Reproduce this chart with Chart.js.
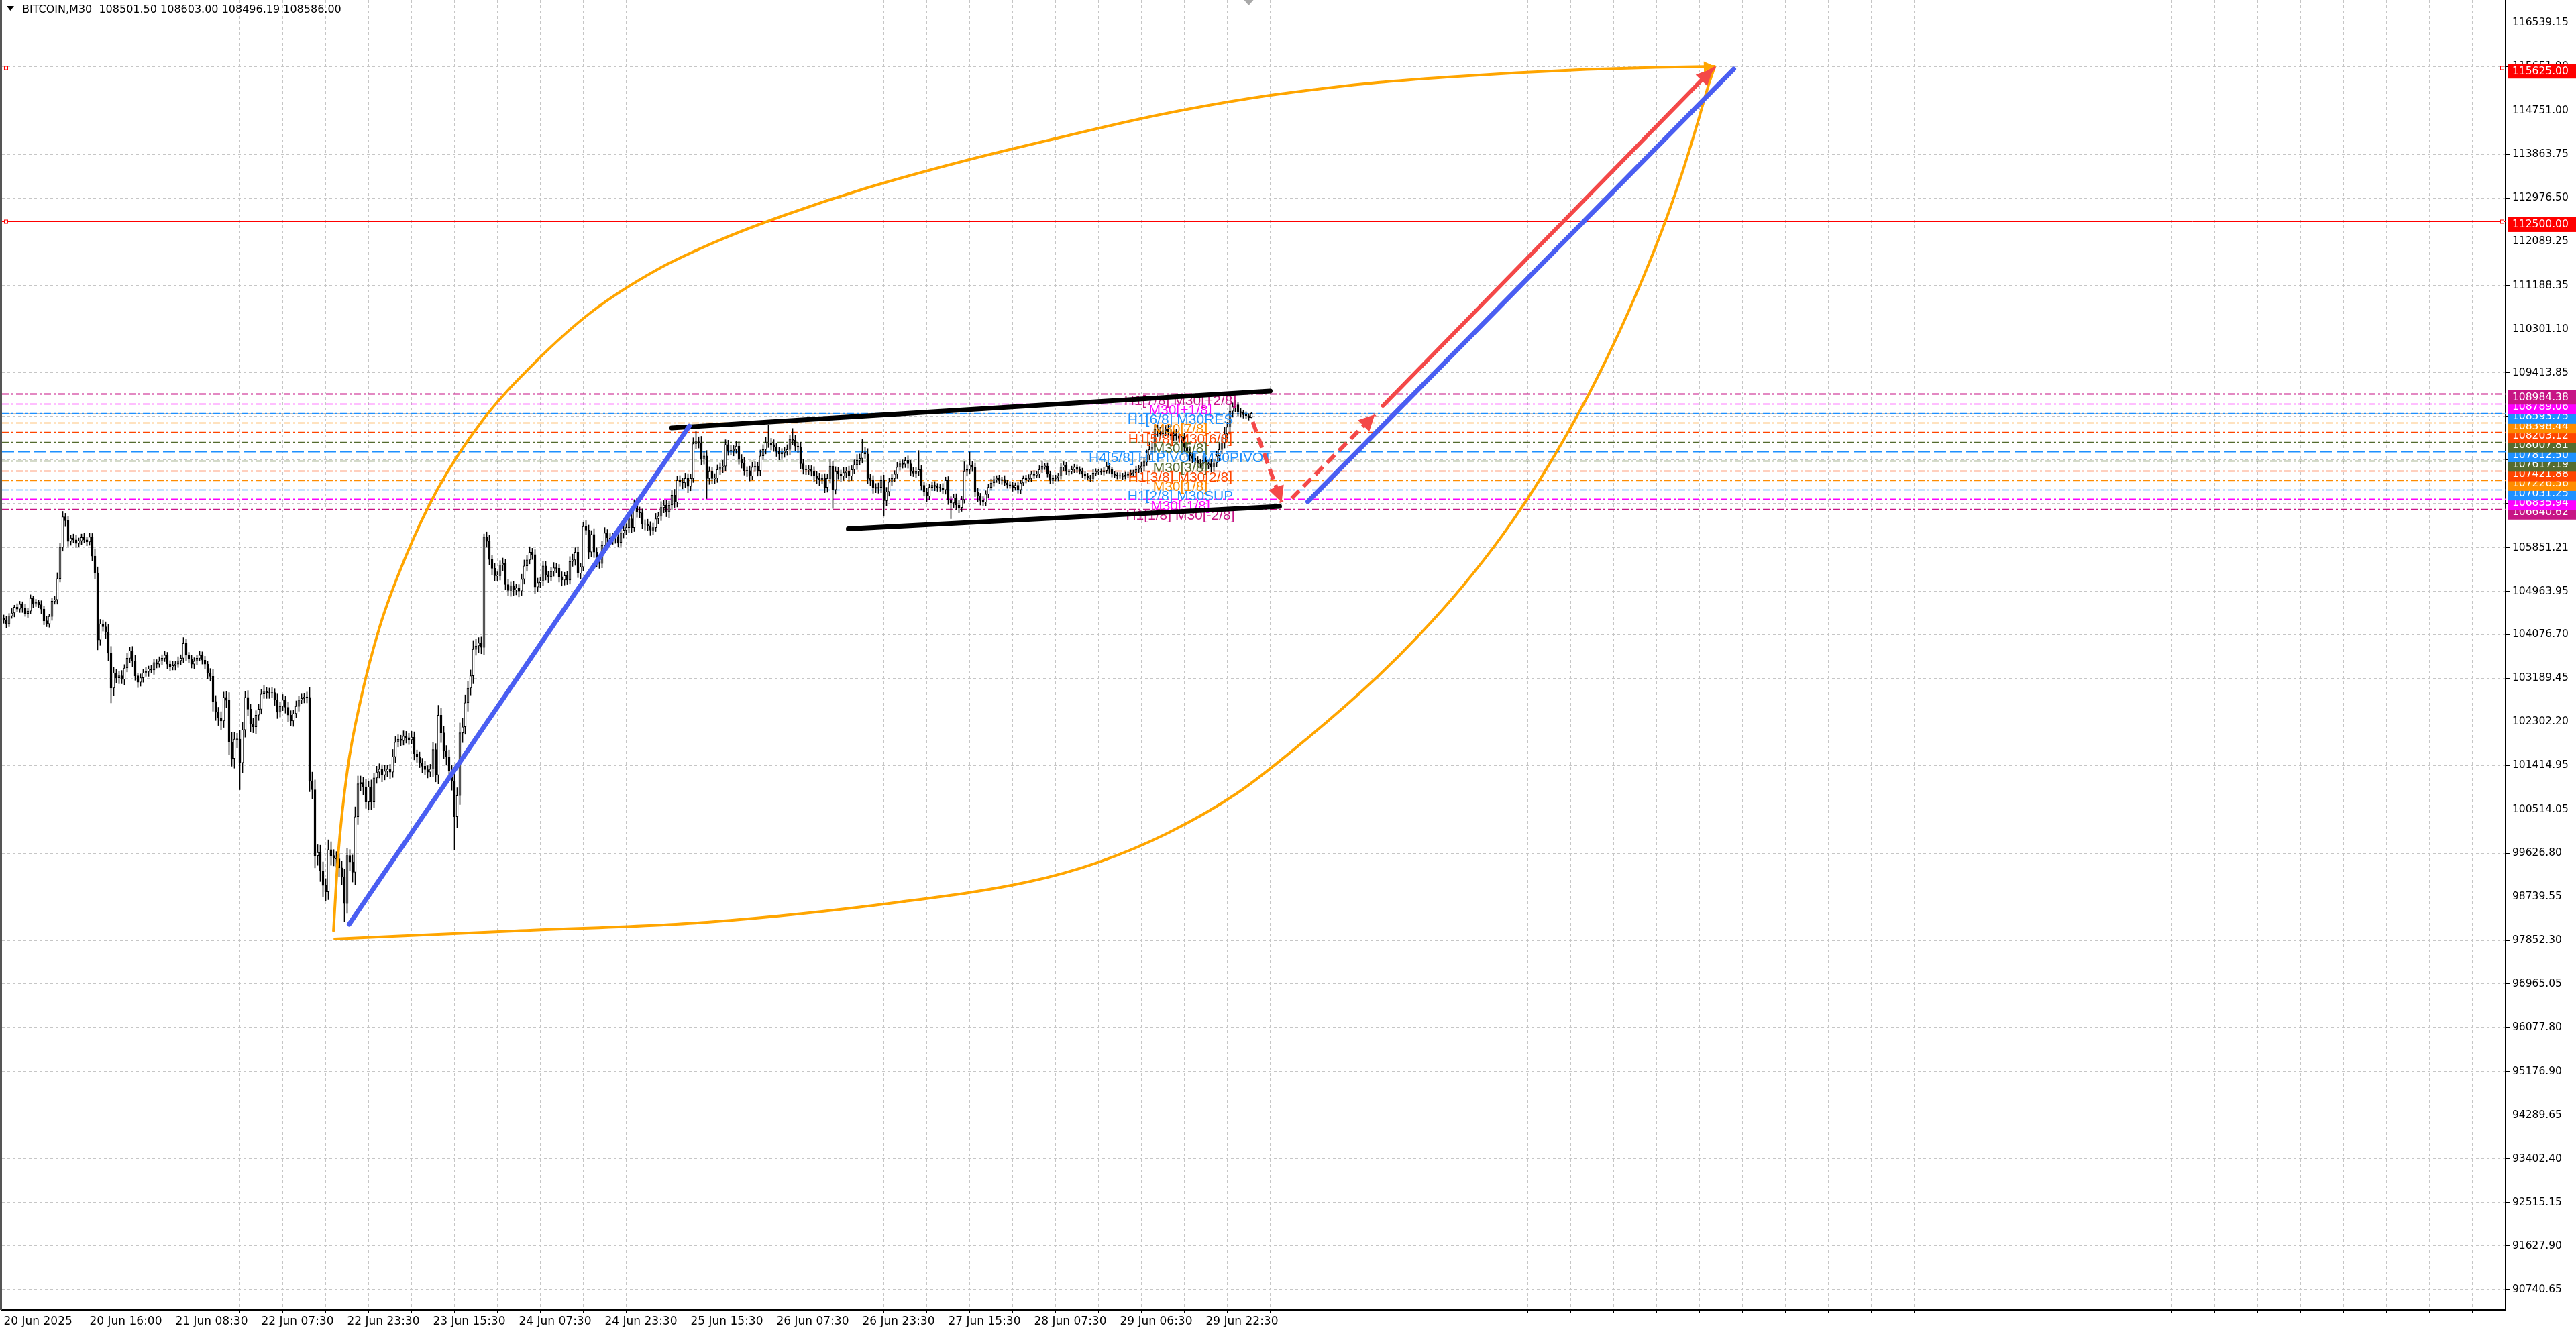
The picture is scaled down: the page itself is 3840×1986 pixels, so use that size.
<!DOCTYPE html>
<html>
<head>
<meta charset="utf-8">
<title>BITCOIN,M30</title>
<script src="https://cdn.jsdelivr.net/npm/chart.js@4/dist/chart.umd.min.js"></script>
<style>
  html, body { margin: 0; padding: 0; background: #fff; overflow: hidden; }
  canvas { display: block; }
</style>
</head>
<body>
<canvas id="chart" width="3840" height="1986" style="width:3840px;height:1986px"></canvas>
<script>
// ---- header / axis texts ----
const symbolName = 'BITCOIN,M30';
const lastOHLC = [108501.50, 108603.00, 108496.19, 108586.00];
const xLabels = ['20 Jun 2025', '20 Jun 16:00', '21 Jun 08:30', '22 Jun 07:30', '22 Jun 23:30',
  '23 Jun 15:30', '24 Jun 07:30', '24 Jun 23:30', '25 Jun 15:30', '26 Jun 07:30',
  '26 Jun 23:30', '27 Jun 15:30', '28 Jun 07:30', '29 Jun 06:30', '29 Jun 22:30'];
const yTicks = [116539.15, 115651.90, 114751.00, 113863.75, 112976.50, 112089.25, 111188.35,
  110301.10, 109413.85, 108526.60, 107639.35, 106752.10, 105851.21, 104963.95, 104076.70,
  103189.45, 102302.20, 101414.95, 100514.05, 99626.80, 98739.55, 97852.30, 96965.05,
  96077.80, 95176.90, 94289.65, 93402.40, 92515.15, 91627.90, 90740.65];

// ---- M30 candles (one per bar, opens follow the previous close) ----
const firstOpen = 104420;
const closes = [
  104380,104300,104460,104520,104640,104600,104700,104620,104510,104560,
  104820,104700,104740,104690,104600,104360,104300,104450,104760,104790,
  105220,105860,106480,106400,105980,106050,106010,105940,105990,106060,
  106010,105970,106070,105680,105340,103970,104300,104240,104130,103700,
  102990,103300,103200,103240,103170,103400,103600,103750,103540,103240,
  103110,103200,103300,103330,103380,103360,103510,103480,103540,103600,
  103660,103480,103420,103450,103480,103550,103600,103900,103660,103580,
  103480,103540,103600,103660,103560,103480,103300,103230,102720,102500,
  102380,102320,102800,102740,101890,101560,101950,101950,101470,102140,
  102800,102560,102260,102200,102440,102560,102870,102930,102900,102880,
  102900,102750,102500,102620,102750,102600,102440,102320,102470,102620,
  102750,102780,102810,102800,101100,100920,99580,99640,99270,98970,
  98840,99700,99580,99520,99510,99330,99150,98600,99580,99450,
  99240,100370,101040,101070,100980,100670,100980,100670,101160,101280,
  101340,101220,101300,101340,101280,101590,101890,101950,101920,102010,
  101980,101940,101990,101650,101590,101470,101400,101330,101280,101340,
  101740,101220,102440,102080,101710,101590,101300,101100,100370,100800,
  102080,102200,102690,102990,103240,103780,103850,103910,103820,106070,
  105980,105610,105430,105280,105280,105500,105530,105100,104980,105080,
  104990,105030,104970,105210,105480,105600,105760,105710,105050,105140,
  105170,105480,105300,105260,105370,105440,105430,105260,105190,105280,
  105190,105570,105600,105760,105330,105460,106280,106210,105760,106120,
  105760,105580,105530,105900,106150,106050,106010,106060,106080,105960,
  106150,106210,106260,106440,106260,106740,106580,106560,106330,106330,
  106300,106210,106260,106440,106490,106670,106720,106580,106720,106920,
  106780,107220,107190,107170,107260,107100,107260,107970,108010,107990,
  107650,107720,107260,107400,107260,107270,107440,107490,107510,107950,
  107830,107830,107850,107920,107650,107580,107420,107420,107310,107490,
  107510,107420,107720,107850,107990,107990,107950,107900,107810,107760,
  107790,107810,107850,108060,108040,107920,107900,107560,107440,107440,
  107440,107400,107310,107260,107240,107260,107080,107260,107510,107030,
  107400,107350,107310,107380,107400,107310,107440,107540,107630,107670,
  107790,107760,107260,107220,107080,107060,107080,107220,106810,106990,
  107190,107260,107350,107490,107560,107550,107630,107560,107400,107370,
  107400,107440,107120,106990,106900,107080,107120,107100,107080,107070,
  107030,107220,106830,106760,106870,106720,106670,106830,107400,107440,
  107530,107490,106990,106900,106810,106780,106940,107080,107170,107240,
  107260,107220,107240,107170,107130,107120,107080,107120,107030,107170,
  107260,107240,107260,107350,107330,107350,107440,107510,107510,107350,
  107220,107260,107280,107310,107490,107530,107400,107400,107440,107490,
  107440,107400,107350,107310,107280,107260,107370,107400,107400,107390,
  107420,107510,107440,107350,107330,107310,107320,107300,107330,107340,
  107370,107380,107440,107470,107510,107600,107740,107850,107900,108260,
  108220,108170,108240,108260,108190,108130,108170,108130,108080,108100,
  107900,107810,107720,107670,107630,107580,107560,107630,107540,107560,
  107490,107580,107720,107850,107990,108170,108310,108630,108720,108760,
  108620,108600,108560,108540,108500,108586
];
// upper / lower shadow length of each candle
const wickUp = [
  60,80,50,90,40,70,60,50,80,60, 70,50,60,40,80,60,90,50,60,70,
  120,80,110,70,90,60,80,100,60,70, 90,60,80,70,150,120,90,80,100,160,
  140,120,80,90,110,70,100,80,90,120, 60,80,70,90,60,80,70,60,90,70,
  80,60,70,90,60,80,70,120,90,60, 80,70,60,90,70,80,60,90,150,120,
  100,130,110,120,160,200,140,120,180,150, 120,140,100,120,90,110,100,120,80,90,
  100,80,120,90,110,80,100,90,70,110, 80,90,70,100,200,180,200,160,150,180,
  140,200,160,120,140,110,130,160,150,120, 140,200,160,130,110,150,120,140,100,120,
  110,90,120,80,100,150,120,90,80,110, 100,90,120,110,80,100,90,110,80,100,
  140,120,200,150,130,110,140,120,180,160, 200,180,160,140,120,180,140,110,120,60,
  100,120,90,100,80,90,110,80,100,70, 90,80,70,100,120,90,110,80,100,90,
  80,100,90,70,80,110,90,80,100,70, 90,100,120,90,110,80,90,120,100,80,
  120,90,100,80,110,70,90,80,100,120, 90,110,80,100,130,90,120,100,80,90,
  100,80,90,110,80,120,90,100,80,110, 120,90,100,80,110,100,90,120,210,100,
  130,90,110,100,80,90,100,90,120,100, 90,110,80,100,90,100,110,80,90,100,
  90,80,120,100,110,360,90,100,80,90, 80,90,100,90,220,100,80,100,90,80,
  90,80,100,90,110,80,100,90,130,100, 100,90,80,100,90,110,80,100,120,90,
  270,100,110,90,100,80,90,100,110,90, 80,90,70,100,60,80,60,90,70,80,
  80,390,90,70,80,60,70,80,60,70, 90,70,80,60,70,80,90,70,200,100,
  270,80,90,70,60,80,70,60,80,70, 60,70,50,80,60,70,60,50,70,60,
  60,70,80,60,70,50,80,110,60,70, 60,70,50,60,80,70,60,50,70,60,
  50,60,70,50,60,50,70,60,50,60, 70,80,60,50,60,50,60,50,60,50,
  60,50,70,60,80,90,100,120,90,80, 100,90,110,80,90,70,80,90,70,80,
  90,80,100,70,90,80,70,90,80,70, 90,80,100,120,110,130,100,140,80,90,
  60,70,50,60,40,17
];
const wickDn = [
  70,90,60,50,80,60,70,90,60,80, 60,80,50,70,90,80,60,70,80,60,
  90,70,80,120,100,80,60,90,70,80, 60,80,70,100,120,200,110,90,130,150,
  300,160,100,120,90,110,80,100,120,90, 110,80,90,70,100,60,90,80,70,80,
  70,90,80,60,90,70,80,100,110,70, 80,90,70,60,80,90,120,100,200,170,
  150,180,130,150,250,160,200,180,550,200, 150,130,160,120,140,110,100,90,120,100,
  90,110,130,100,90,120,140,100,110,90, 100,80,90,110,220,180,250,200,220,240,
  180,160,200,150,170,190,160,370,200,180, 200,250,160,140,170,130,150,160,120,110,
  120,140,100,110,130,110,120,100,110,90, 110,100,90,120,110,100,130,110,120,90,
  160,140,180,200,150,170,160,190,670,220, 180,200,150,170,140,160,120,140,130,150,
  120,110,130,100,110,90,120,110,100,120, 110,100,120,90,100,110,80,100,130,90,
  100,90,110,120,80,100,90,110,120,100, 90,80,100,110,90,120,80,100,130,90,
  110,120,100,90,80,110,100,90,120,100, 80,100,90,110,100,80,110,100,90,120,
  100,110,90,80,100,90,110,100,120,90, 110,100,90,120,100,130,90,80,100,110,
  120,100,410,120,100,110,90,100,110,90, 100,90,110,80,100,110,90,120,100,80,
  90,110,100,80,90,100,110,90,100,120, 90,100,80,110,90,100,120,110,90,100,
  100,90,110,100,120,90,110,100,90,380, 90,100,110,90,100,110,90,80,100,90,
  100,90,110,100,120,90,100,110,320,100, 90,80,70,90,60,80,70,90,80,70,
  90,80,100,90,110,80,70,90,80,70, 80,90,100,320,90,100,110,80,70,90,
  80,90,100,110,90,80,70,80,60,70, 60,70,80,60,70,60,80,60,70,80,
  60,70,50,60,70,60,80,60,70,60, 70,60,50,70,60,80,60,70,50,60,
  60,50,70,60,50,60,70,50,60,50, 60,50,70,60,50,60,50,60,50,60,
  50,60,70,60,80,90,80,100,110,90, 100,90,80,110,90,80,100,90,80,90,
  90,100,110,90,100,80,90,100,80,90, 100,90,80,100,90,110,90,100,120,110,
  80,90,70,60,50,4
];

// ---- horizontal levels ----
const redLevels = [115625.00, 112500.00];
const bidPrice = 108586.00;
const levels = [108984.38, 108789.06, 108593.75, 108398.44, 108203.12, 108007.81, 107812.50,
  107617.19, 107421.88, 107226.56, 107031.25, 106835.94, 106640.62];
const levelColors = ['#C71585', '#FF00FF', '#1E90FF', '#FF8C00', '#FF4500', '#556B2F', '#1E90FF',
  '#556B2F', '#FF4500', '#FF8C00', '#1E90FF', '#FF00FF', '#C71585'];
const levelWidths = [2, 1.5, 1.5, 1.5, 1.5, 1.5, 2, 1.5, 1.5, 1.5, 1.5, 2, 1.5];
const levelTexts = ['H1[7/8] M30[+2/8]', 'M30[+1/8]', 'H1[6/8] M30RES', 'M30[7/8]', 'H1[5/8] M30[6/8]',
  'M30[5/8]', 'H4[5/8] H1PIVOT M30PIVOT', 'M30[3/8]', 'H1[3/8] M30[2/8]', 'M30[1/8]',
  'H1[2/8] M30SUP', 'M30[-1/8]', 'H1[1/8] M30[-2/8]'];
const levelTextBar = 438.5;
const shiftBar = 464;

// ---- drawn objects: [bar index, price] ----
const blueTrendA = [[128.75, 98180], [255.5, 108328]];
const blueTrendB = [[486, 106788], [644.75, 115600]];
const channelTop = [[248.9, 108291], [472, 109042]];
const channelBottom = [[314.75, 106234], [475.5, 106692]];
const redDashDown = [[465.5, 108414], [476.25, 106774]];
const redDashUp = [[480, 106856], [511, 108564]];
const redArrow = [[514, 108742], [637.25, 115625]];
const arcUpper = [[122.9, 98044], [124.6, 99560], [128.1, 101323], [132.9, 102717],
  [140.1, 104233], [149.6, 105640], [161.6, 107034], [178.4, 108441], [197.6, 109603],
  [219.1, 110655], [243.1, 111502], [266.9, 112117], [290.9, 112622], [321.9, 113182],
  [357.9, 113729], [393.6, 114207], [429.6, 114658], [465.4, 115013], [493.6, 115218],
  [512.1, 115327], [537.9, 115437], [563.9, 115526], [589.9, 115594], [615.6, 115635],
  [637.6, 115655]];
const arcLower = [[123.4, 97880], [190.4, 98044], [262.1, 98221], [333.9, 98631],
  [381.6, 99041], [407.6, 99437], [433.9, 100039], [459.9, 100858], [486.1, 101979],
  [512.1, 103229], [527.6, 104076], [543.1, 105026], [558.6, 106110], [574.1, 107381],
  [589.9, 108892], [600.1, 110013], [610.6, 111304], [619.9, 112595], [626.1, 113585],
  [631.1, 114474], [635.4, 115286], [637.6, 115642]];

const FONT = '"DejaVu Sans", Verdana, sans-serif';
const RED = '#F44848';
const BLUE = '#4A5EF2';
const ORANGE = '#FFA500';

// candle pieces
const opens = closes.map((c, i) => (i === 0 ? firstOpen : closes[i - 1]));
const wickData = closes.map((c, i) => ({
  x: i, y: [Math.min(opens[i], c) - wickDn[i], Math.max(opens[i], c) + wickUp[i]]
}));
const bodyData = closes.map((c, i) => {
  let lo = Math.min(opens[i], c), hi = Math.max(opens[i], c);
  if (hi - lo < 14) { const m = (hi + lo) / 2; lo = m - 7; hi = m + 7; }
  return { x: i, y: [lo, hi] };
});
const bodyColors = closes.map((c, i) => (c >= opens[i] ? '#ffffff' : '#000000'));

const xGrid = [];
for (let v = 0; v <= 928; v += 16) xGrid.push(v);

function lineDs(label, pts, color, width, order, extra) {
  return Object.assign({
    type: 'line', label, data: pts.map(([x, y]) => ({ x, y })),
    borderColor: color, borderWidth: width, pointRadius: 0, fill: false,
    tension: 0, borderCapStyle: 'round', order
  }, extra || {});
}

function hline(ctx, a, yy, color, w, dash) {
  ctx.strokeStyle = color;
  ctx.lineWidth = w;
  ctx.setLineDash(dash);
  ctx.beginPath();
  ctx.moveTo(a.left, yy);
  ctx.lineTo(a.right, yy);
  ctx.stroke();
}

function arrowHead(ctx, x, y, from, to, len, half, color) {
  const fx = x.getPixelForValue(from[0]), fy = y.getPixelForValue(from[1]);
  const tx = x.getPixelForValue(to[0]), ty = y.getPixelForValue(to[1]);
  const d = Math.hypot(tx - fx, ty - fy) || 1;
  const ux = (tx - fx) / d, uy = (ty - fy) / d;
  const bx = tx - ux * len, by = ty - uy * len;
  ctx.fillStyle = color;
  ctx.beginPath();
  ctx.moveTo(tx, ty);
  ctx.lineTo(bx - uy * half, by + ux * half);
  ctx.lineTo(bx + uy * half, by - ux * half);
  ctx.closePath();
  ctx.fill();
}

const overlay = {
  id: 'overlay',
  beforeDatasetsDraw(chart) {
    const { ctx, chartArea: a, scales: { y } } = chart;
    ctx.save();
    ctx.beginPath();
    ctx.rect(a.left, a.top, a.right - a.left, a.bottom - a.top);
    ctx.clip();
    hline(ctx, a, Math.round(y.getPixelForValue(bidPrice)) + 0.5, '#c0c0c0', 1, []);
    levels.forEach((p, k) => {
      const yy = Math.round(y.getPixelForValue(p)) + 0.5;
      hline(ctx, a, yy, levelColors[k], levelWidths[k], k === 6 ? [18, 6] : [10, 4, 3, 4]);
    });
    redLevels.forEach(p => hline(ctx, a, Math.round(y.getPixelForValue(p)) + 0.5, '#ff0000', 1, []));
    ctx.restore();
  },
  afterDatasetDraw(chart, args) {
    // level captions sit above the candles but under the drawn lines
    if (chart.data.datasets[args.index].label !== 'bodies') return;
    const { ctx, scales: { x, y } } = chart;
    ctx.save();
    ctx.font = '21px "Liberation Sans", Arial, sans-serif';
    ctx.textAlign = 'center';
    ctx.textBaseline = 'top';
    const cx = x.getPixelForValue(levelTextBar);
    levels.forEach((p, k) => {
      ctx.fillStyle = levelColors[k];
      ctx.fillText(levelTexts[k], cx, y.getPixelForValue(p));
    });
    ctx.restore();
  },
  afterDatasetsDraw(chart) {
    const { ctx, scales: { x, y } } = chart;
    ctx.save();
    arrowHead(ctx, x, y, redDashDown[0], redDashDown[1], 24, 12, RED);
    arrowHead(ctx, x, y, redDashUp[0], redDashUp[1], 24, 12, RED);
    arrowHead(ctx, x, y, redArrow[0], redArrow[1], 26, 12, RED);
    arrowHead(ctx, x, y, arcUpper[arcUpper.length - 3], arcUpper[arcUpper.length - 1], 16, 8, ORANGE);
    ctx.restore();
  },
  afterDraw(chart) {
    const { ctx, chartArea: a, scales: { x, y } } = chart;
    ctx.save();
    // price boxes on the axis
    const boxes = levels.map((p, k) => ({ p, c: levelColors[k] }))
      .concat(redLevels.map(p => ({ p, c: '#ff0000' })))
      .sort((m, n) => m.p - n.p);
    ctx.font = '15.5px ' + FONT;
    ctx.textAlign = 'left';
    ctx.textBaseline = 'middle';
    boxes.forEach(b => {
      const yy = y.getPixelForValue(b.p);
      ctx.fillStyle = b.c;
      ctx.fillRect(a.right + 3, yy - 6, chart.width - a.right - 3, 22);
      ctx.fillStyle = '#ffffff';
      ctx.fillText(b.p.toFixed(2), a.right + 10, yy + 5.5);
    });
    // small squares at the ends of the red levels
    redLevels.forEach(p => {
      const yy = Math.round(y.getPixelForValue(p)) + 0.5;
      [a.left + 4, a.right - 7].forEach(sx => {
        ctx.fillStyle = '#ffffff';
        ctx.fillRect(sx - 0.5, yy - 2.5, 5, 5);
        ctx.strokeStyle = '#ff0000';
        ctx.lineWidth = 1;
        ctx.strokeRect(sx - 0.5, yy - 2.5, 5, 5);
      });
    });
    // left frame
    ctx.fillStyle = '#555555';
    ctx.fillRect(0, 0, 1, a.bottom);
    ctx.fillRect(2, 0, 1, a.bottom);
    // chart shift marker
    const sx = x.getPixelForValue(shiftBar);
    ctx.fillStyle = '#a8a8a8';
    ctx.beginPath();
    ctx.moveTo(sx - 7, 0); ctx.lineTo(sx + 7, 0); ctx.lineTo(sx, 8); ctx.closePath();
    ctx.fill();
    // header
    ctx.fillStyle = '#000000';
    ctx.beginPath();
    ctx.moveTo(10, 9); ctx.lineTo(21, 9); ctx.lineTo(15.5, 16); ctx.closePath();
    ctx.fill();
    ctx.font = '16px ' + FONT;
    ctx.textBaseline = 'alphabetic';
    ctx.fillText(symbolName + '  ' + lastOHLC.map(v => v.toFixed(2)).join(' '), 33, 19);
    ctx.restore();
  }
};

Chart.defaults.font.family = FONT;

new Chart(document.getElementById('chart'), {
  type: 'line',
  data: {
    datasets: [
      lineDs('redArrow', redArrow, RED, 6, 10),
      lineDs('redDashUp', redDashUp, RED, 6, 11, { borderDash: [16, 9], borderCapStyle: 'butt' }),
      lineDs('redDashDown', redDashDown, RED, 6, 12, { borderDash: [16, 9], borderCapStyle: 'butt' }),
      lineDs('blueTrendB', blueTrendB, BLUE, 7, 20),
      lineDs('blueTrendA', blueTrendA, BLUE, 7, 21),
      lineDs('channelTop', channelTop, '#000000', 7, 30),
      lineDs('channelBottom', channelBottom, '#000000', 7, 31),
      lineDs('arcUpper', arcUpper, ORANGE, 4, 40, { cubicInterpolationMode: 'monotone' }),
      lineDs('arcLower', arcLower, ORANGE, 4, 41, { cubicInterpolationMode: 'monotone' }),
      {
        type: 'bar', label: 'bodies', data: bodyData, backgroundColor: bodyColors,
        borderColor: '#000000', borderWidth: 1, borderSkipped: false,
        barThickness: 3, maxBarThickness: 3, grouped: false, order: 80
      },
      {
        type: 'bar', label: 'wicks', data: wickData, backgroundColor: '#000000',
        borderWidth: 0, barThickness: 1, maxBarThickness: 1, grouped: false, order: 90
      }
    ]
  },
  options: {
    responsive: false,
    devicePixelRatio: 1,
    animation: false,
    events: [],
    layout: { padding: { left: 3, right: 0, top: 0, bottom: 0 } },
    plugins: { legend: { display: false }, tooltip: { enabled: false }, title: { display: false } },
    scales: {
      x: {
        type: 'linear', min: -0.625, max: 932.375, offset: false,
        afterBuildTicks: s => { s.ticks = xGrid.map(v => ({ value: v })); },
        afterFit: s => { s.height = 33; s.paddingLeft = 0; s.paddingRight = 0; },
        ticks: {
          autoSkip: false, maxRotation: 0, minRotation: 0, align: 'start', padding: 2,
          color: '#000000', font: { family: FONT, size: 17 },
          callback: v => (v % 32 === 0 && xLabels[v / 32]) || ''
        },
        grid: { color: '#c6c6c6', lineWidth: 1, tickLength: 5, tickColor: '#000000', tickBorderDash: [] },
        border: { display: true, color: '#000000', width: 2, dash: [4, 4] }
      },
      y: {
        type: 'linear', position: 'right', min: 90324, max: 117007.8,
        afterBuildTicks: s => { s.ticks = yTicks.map(v => ({ value: v })); },
        afterFit: s => { s.width = 105; s.paddingTop = 0; s.paddingBottom = 0; },
        ticks: {
          autoSkip: false, padding: 4, color: '#000000', font: { family: FONT, size: 15.5 },
          callback: v => Number(v).toFixed(2)
        },
        grid: { color: '#c6c6c6', lineWidth: 1, tickLength: 6, tickColor: '#000000', tickBorderDash: [] },
        border: { display: true, color: '#000000', width: 2, dash: [4, 4] }
      }
    }
  },
  plugins: [overlay]
});
</script>
</body>
</html>
